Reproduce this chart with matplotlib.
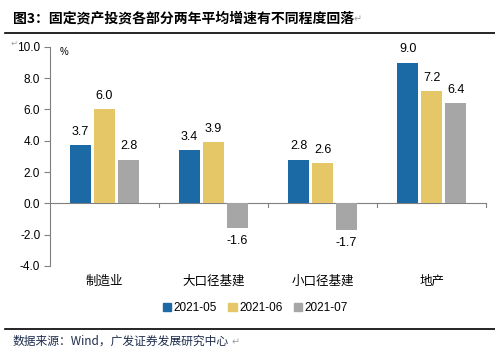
import numpy as np
import matplotlib
matplotlib.use('Agg')
import matplotlib.pyplot as plt
from matplotlib.lines import Line2D

plt.rcParams['font.family'] = ['Liberation Sans', 'Noto Sans CJK SC', 'DejaVu Sans']

categories = ['制造业', '大口径基建', '小口径基建', '地产']
series_names = ['2021-05', '2021-06', '2021-07']
may_vals = [3.7, 3.4, 2.8, 9.0]
jun_vals = [6.0, 3.9, 2.6, 7.2]
jul_vals = [2.8, -1.6, -1.7, 6.4]
yticks = [-4.0, -2.0, 0.0, 2.0, 4.0, 6.0, 8.0, 10.0]

colors = ['#1B6AA5', '#E5C767', '#A6A6A6']
axis_gray = '#808080'
mark_gray = '#A0A0A0'
cjk = ['Noto Sans CJK SC', 'DejaVu Sans']

fig = plt.figure(figsize=(4.95, 3.55), dpi=100)
ax = fig.add_axes([0.101, 0.251, 0.881, 0.617])

ind = np.arange(len(categories))
width = 0.2
step = 0.22
all_vals = [may_vals, jun_vals, jul_vals]
for i, vals in enumerate(all_vals):
  xs = ind + (i - 1) * step
  ax.bar(xs, vals, width, color=colors[i], label=series_names[i], zorder=2)
  for x, v in zip(xs, vals):
    if v >= 0:
      ax.text(x, v + 0.45, '%.1f' % v, ha='center', va='bottom', fontsize=9)
    else:
      ax.text(x, v - 0.45, '%.1f' % v, ha='center', va='top', fontsize=9)

ax.set_xlim(-0.5, len(categories) - 0.5)
ax.set_ylim(-4, 10)
ax.set_yticks(yticks)
ax.set_yticklabels(['%.1f' % t for t in yticks], fontsize=8.5)

for s in ['top', 'right', 'bottom']:
  ax.spines[s].set_visible(False)
ax.spines['left'].set_color(axis_gray)
ax.tick_params(axis='y', color=axis_gray, length=4, width=0.8, pad=3)
ax.axhline(0, color=axis_gray, linewidth=0.8, zorder=1)
ax.set_xticks([])
for b in np.arange(0.5, len(categories), 1.0):
  ax.plot([b, b], [0, -0.22], color=axis_gray, linewidth=0.8, clip_on=False, zorder=1)

for i, c in enumerate(categories):
  ax.text(i, -5.0, c, ha='center', va='center', fontsize=9, family=cjk)

ax.text(0.023, 0.975, '%', transform=ax.transAxes, fontsize=7, va='center')
fig.text(0.022, 0.878, '↵', fontsize=6, color=mark_gray, va='center', family=['DejaVu Sans'])

handles = [plt.Rectangle((0, 0), 1, 1, color=c) for c in colors]
fig.legend(handles, series_names, loc='center', bbox_to_anchor=(0.516, 0.133), ncol=3,
           frameon=False, fontsize=8.5, handlelength=0.7, handleheight=0.7,
           handletextpad=0.2, columnspacing=1.0)

fig.text(0.026, 0.948, '图3：固定资产投资各部分两年平均增速有不同程度回落', fontsize=10,
         fontweight='bold', va='center', family=cjk)
fig.text(0.715, 0.945, '↵', fontsize=7, color=mark_gray, va='center', family=['DejaVu Sans'])
fig.text(0.026, 0.039, '数据来源：Wind，广发证券发展研究中心', fontsize=8.5, va='center',
         color='#1F2D4D', family=cjk)
fig.text(0.468, 0.037, '↵', fontsize=7, color=mark_gray, va='center', family=['DejaVu Sans'])

fig.add_artist(Line2D([0.01, 1.0], [0.908, 0.908], color='black', linewidth=1.2))
fig.add_artist(Line2D([0.01, 1.0], [0.073, 0.073], color='black', linewidth=1.2))

fig.savefig('out.png', dpi=100)
